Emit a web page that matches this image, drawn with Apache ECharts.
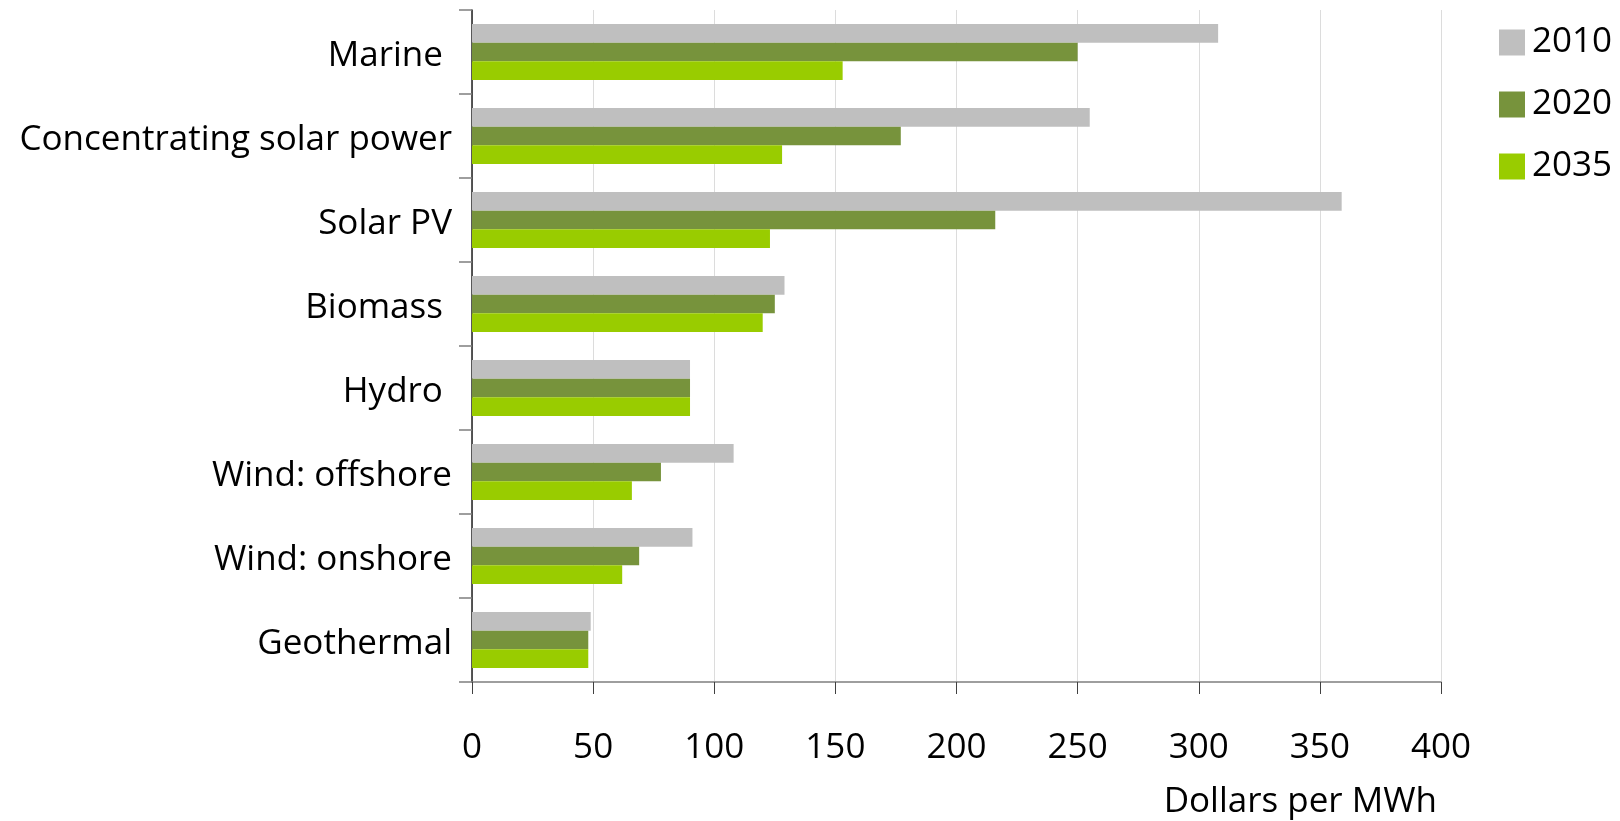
<!DOCTYPE html>
<html>
<head>
<meta charset="utf-8">
<script src="https://cdn.jsdelivr.net/npm/echarts@6/dist/echarts.min.js"></script>
<style>
  html, body { margin: 0; padding: 0; background: #ffffff; }
  #chart { width: 1620px; height: 821px; }
</style>
</head>
<body>
<div id="chart"></div>
<script>
// Levelised cost of renewable generation by technology (USD per MWh)
const categories = [
  'Marine ',
  'Concentrating solar power',
  'Solar PV',
  'Biomass ',
  'Hydro ',
  'Wind: offshore',
  'Wind: onshore',
  'Geothermal'
];
const years = ['2010', '2020', '2035'];
const values2010 = [308, 255, 359, 129, 90, 108, 91, 49];
const values2020 = [250, 177, 216, 125, 90, 78, 69, 48];
const values2035 = [153, 128, 123, 120, 90, 66, 62, 48];
const xTicks = [0, 50, 100, 150, 200, 250, 300, 350, 400];
const colors = ['#BFBFBF', '#77933C', '#99CC00'];

const FONT = '"Open Sans", "Liberation Sans", sans-serif';
const FS = 35;

const chart = echarts.init(document.getElementById('chart'), null, { renderer: 'canvas' });

const seriesValues = [values2010, values2020, values2035];

chart.setOption({
  animation: false,
  backgroundColor: '#ffffff',
  textStyle: { fontFamily: FONT, color: '#000000' },
  grid: { left: 472, right: 179, top: 10, bottom: 139, containLabel: false },
  title: {
    text: 'Dollars per MWh',
    right: 183,
    top: 785,
    padding: 0,
    textStyle: { fontFamily: FONT, fontSize: FS, fontWeight: 'normal', color: '#000000' }
  },
  legend: {
    data: years,
    orient: 'vertical',
    left: 1499,
    top: 25,
    padding: 0,
    itemWidth: 26,
    itemHeight: 26,
    itemGap: 27,
    icon: 'rect',
    textStyle: { fontFamily: FONT, fontSize: FS, color: '#000000', padding: [0, 0, 0, 2] }
  },
  xAxis: {
    type: 'value',
    min: xTicks[0],
    max: xTicks[xTicks.length - 1],
    interval: xTicks[1] - xTicks[0],
    axisLine: { show: true, lineStyle: { color: '#7f7f7f', width: 1.5 } },
    axisTick: { show: true, length: 12, lineStyle: { color: '#404040', width: 1 } },
    axisLabel: { margin: 49, fontFamily: FONT, fontSize: FS, color: '#000000' },
    splitLine: { show: true, lineStyle: { color: '#dcdcdc', width: 1 } }
  },
  yAxis: {
    type: 'category',
    data: categories,
    inverse: true,
    axisLine: { show: true, lineStyle: { color: '#202020', width: 1.5 } },
    axisTick: { show: true, length: 13, lineStyle: { color: '#7f7f7f', width: 1.5 } },
    axisLabel: {
      margin: 20, fontFamily: FONT, fontSize: FS, color: '#000000',
      verticalAlign: 'top', lineHeight: 8
    },
    splitLine: { show: false }
  },
  series: years.map((y, i) => ({
    name: y,
    type: 'bar',
    data: seriesValues[i],
    barWidth: 18.7,
    barGap: '0%',
    itemStyle: { color: colors[i] }
  }))
});
</script>
</body>
</html>
